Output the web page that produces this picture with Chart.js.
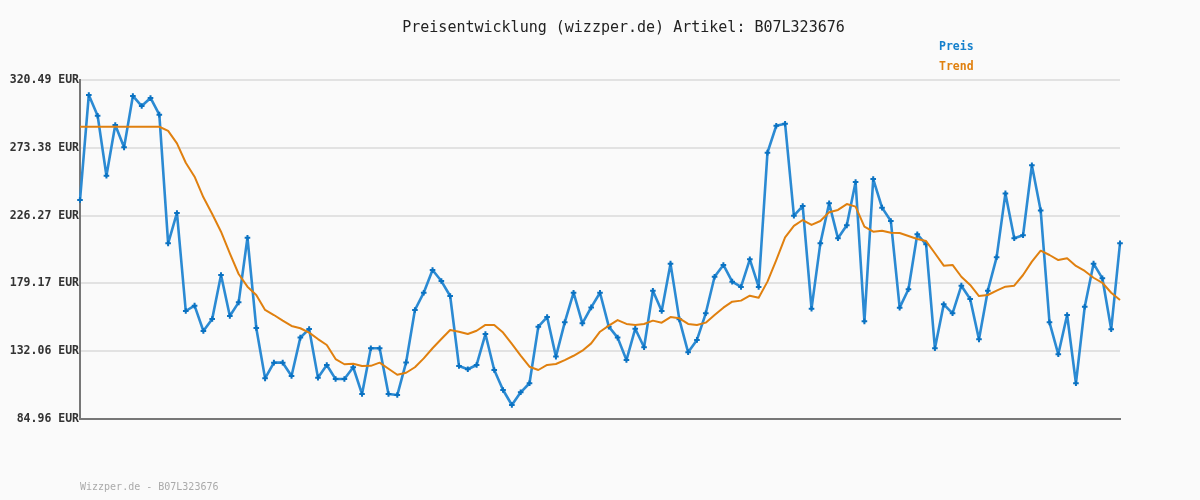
<!DOCTYPE html>
<html>
<head>
<meta charset="utf-8">
<script src="https://cdn.jsdelivr.net/npm/chart.js@4/dist/chart.umd.min.js"></script>
<style>
html,body{margin:0;padding:0;background:#fafafa;}
#wrap{width:1200px;height:500px;position:relative;}
</style>
</head>
<body>
<div id="wrap"><canvas id="c" width="1200" height="500"></canvas></div>
<script>
const titleText = "Preisentwicklung (wizzper.de) Artikel: B07L323676";
const footerText = "Wizzper.de - B07L323676";
const seriesNames = ["Preis", "Trend"];
const yTicks = [84.96, 132.06, 179.17, 226.27, 273.38, 320.49];

const price = [237.1,310.1,295.7,254.0,289.2,273.7,309.4,302.4,308.0,296.4,
207.0,228.1,160.0,163.7,146.1,154.4,185.0,156.5,166.0,210.9,
148.2,113.2,124.1,124.1,114.8,141.5,147.5,113.7,122.5,112.7,
112.7,120.9,102.3,134.1,134.1,102.3,101.6,124.3,160.7,172.7,
188.5,180.8,170.4,121.8,119.5,122.5,144.0,119.0,105.1,94.7,
103.5,109.8,149.1,155.8,128.3,152.1,172.7,151.4,162.5,172.7,
149.1,141.5,125.9,147.7,134.8,174.1,160.0,192.9,154.2,131.3,
139.9,158.4,183.8,192.0,180.4,176.7,195.9,176.7,270.0,288.7,
290.1,226.2,232.9,161.6,207.0,234.8,210.5,219.5,249.6,152.8,
251.7,231.8,222.5,162.3,175.1,213.3,206.3,134.1,164.6,158.4,
177.6,168.3,140.3,174.1,197.3,241.7,210.5,212.6,261.2,229.9,
152.1,129.9,157.2,109.8,163.0,192.9,182.7,147.3,207.0];

const trend = [288.0,288.0,288.0,288.0,288.0,288.0,288.0,288.0,288.0,288.0,
285.1,276.5,263.0,253.3,239.0,227.4,215.1,200.1,185.7,176.9,
171.1,160.7,157.2,153.3,149.6,148.0,145.0,140.5,136.4,126.6,
123.0,123.4,121.8,121.9,124.1,119.9,115.7,117.1,120.9,127.1,
134.1,140.5,146.8,145.6,144.0,146.3,150.3,150.3,145.0,137.1,
129.0,121.3,119.0,122.5,123.2,125.9,128.9,132.4,137.5,145.6,
149.8,153.7,151.0,150.3,151.0,153.3,151.9,155.8,154.9,151.0,
150.3,151.9,157.2,162.3,166.5,167.2,170.6,169.2,180.4,195.4,
211.2,219.1,223.2,219.8,222.5,228.6,230.2,234.3,232.5,218.6,
215.1,215.8,214.4,214.2,212.1,210.0,208.6,200.1,191.5,192.0,
183.8,178.1,170.4,171.1,174.1,176.9,177.6,185.0,194.3,201.9,
198.9,195.4,196.6,191.3,187.8,183.1,179.6,172.7,167.6];

const labels = price.map((_, i) => String(i + 1));

const BLUE = "#1580cc";
const ORANGE = "#e0800f";
const MONO = "'DejaVu Sans Mono', 'Liberation Mono', monospace";

const decor = {
  id: "decor",
  beforeDraw(chart) {
    const ctx = chart.ctx;
    ctx.save();
    ctx.fillStyle = "#fafafa";
    ctx.fillRect(0, 0, chart.width, chart.height);
    ctx.restore();
  },
  beforeDatasetsDraw(chart) {
    const ctx = chart.ctx, a = chart.chartArea;
    ctx.save();
    ctx.strokeStyle = "#777";
    ctx.lineWidth = 2;
    ctx.beginPath();
    ctx.moveTo(a.left, a.top - 1);
    ctx.lineTo(a.left, a.bottom);
    ctx.lineTo(a.right + 1, a.bottom);
    ctx.stroke();
    ctx.restore();
  },
  afterDraw(chart) {
    const ctx = chart.ctx;
    ctx.save();
    ctx.textBaseline = "middle";
    ctx.fillStyle = "#222";
    ctx.font = "15px " + MONO;
    ctx.textAlign = "center";
    ctx.fillText(titleText, 623.5, 28);
    ctx.textAlign = "left";
    ctx.font = "bold 11.5px " + MONO;
    ctx.fillStyle = BLUE;
    ctx.fillText(seriesNames[0], 939, 47);
    ctx.fillStyle = ORANGE;
    ctx.fillText(seriesNames[1], 939, 67);
    ctx.font = "10px " + MONO;
    ctx.fillStyle = "#aaa";
    ctx.fillText(footerText, 80, 487);
    ctx.restore();
  }
};

new Chart(document.getElementById("c"), {
  type: "line",
  data: {
    labels: labels,
    datasets: [
      {
        label: seriesNames[1],
        data: trend,
        borderColor: ORANGE,
        borderWidth: 2,
        borderJoinStyle: "round",
        pointRadius: 0,
        tension: 0,
        fill: false
      },
      {
        label: seriesNames[0],
        data: price,
        borderColor: "#2b8ad3",
        backgroundColor: BLUE,
        borderWidth: 2.6,
        borderJoinStyle: "round",
        pointStyle: "cross",
        pointRadius: 2.8,
        pointBorderColor: "#0a72c2",
        pointBorderWidth: 2,
        tension: 0,
        fill: false
      }
    ]
  },
  options: {
    responsive: false,
    animation: false,
    layout: { padding: { top: 80, left: 0, right: 80, bottom: 81 } },
    plugins: {
      legend: { display: false },
      title: { display: false },
      tooltip: { enabled: false }
    },
    scales: {
      x: {
        display: false,
        offset: false
      },
      y: {
        min: yTicks[0],
        max: yTicks[yTicks.length - 1],
        afterBuildTicks(scale) {
          scale.ticks = yTicks.map(v => ({ value: v }));
        },
        afterFit(scale) { scale.width = 80; },
        border: { display: false },
        grid: { color: "#e2e2e2", lineWidth: 2, drawTicks: false },
        ticks: {
          padding: 1,
          color: "#333",
          font: { family: MONO, size: 11.5, weight: "bold" },
          callback: (v) => Number(v).toFixed(2) + " EUR"
        }
      }
    }
  },
  plugins: [decor]
});
</script>
</body>
</html>
